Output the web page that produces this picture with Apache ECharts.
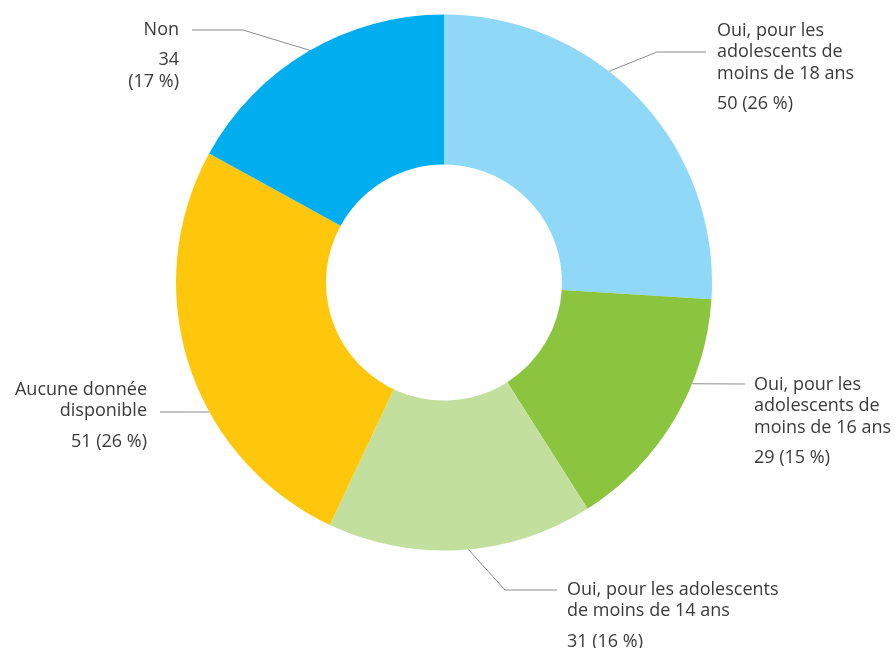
<!DOCTYPE html>
<html>
<head>
<meta charset="utf-8">
<script src="https://cdn.jsdelivr.net/npm/echarts@6/dist/echarts.min.js"></script>
<style>
html, body { margin: 0; background: #fff; }
#chart { width: 895px; height: 648px; }
</style>
</head>
<body>
<div id="chart"></div>
<script>
var names = [
    'Oui, pour les\nadolescents de\nmoins de 18 ans',
    'Oui, pour les\nadolescents de\nmoins de 16 ans',
    'Oui, pour les adolescents\nde moins de 14 ans',
    'Aucune donnée\ndisponible',
    'Non'
];
var counts = [50, 29, 31, 51, 34];
var percents = [26, 15, 16, 26, 17];
var colors = ['#8fd8f7', '#8bc540', '#c3df9d', '#fec70b', '#00aeef'];

// ring geometry (px)
var CX = 444, CY = 282.5, R0 = 118, R = 268;

// label placement: a = angle on the ring where the leader starts (deg, clockwise from top)
var labelPos = [
    {a: 38,    elbow: [657, 52], end: [706, 52],  x: 717, y: 20,  align: 'left'},
    {a: 112.2, elbow: null,      end: [745, 384], x: 754, y: 374, align: 'left'},
    {a: 174.8, elbow: [505, 590], end: [557, 590], x: 567, y: 579, align: 'left'},
    {a: 241.1, elbow: null,      end: [160, 412], x: 147, y: 379, align: 'right'},
    {a: 330,   elbow: [243, 30], end: [192, 30],  x: 179, y: 19,  align: 'right', wrap: true}
];

function ringPoint(a) {
    var rad = a * Math.PI / 180;
    return [CX + R * Math.sin(rad), CY - R * Math.cos(rad)];
}

var chart = echarts.init(document.getElementById('chart'));

// slice sizes follow the rounded shares shown in the labels
var seriesData = [];
for (var i = 0; i < names.length; i++) {
    seriesData.push({value: percents[i], name: names[i], itemStyle: {color: colors[i]}});
}

var txt = {fontFamily: 'Open Sans', fontSize: 18, lineHeight: 21.5, color: '#3a3a3a'};

var option = {
    animation: false,
    series: [{
        type: 'pie',
        center: [CX, CY],
        radius: [R0, R],
        startAngle: 90,
        clockwise: true,
        avoidLabelOverlap: false,
        data: seriesData,
        itemStyle: {borderWidth: 0},
        emphasis: {disabled: true},
        label: {
            show: true,
            position: 'outside',
            fontFamily: 'Open Sans',
            color: '#3a3a3a',
            formatter: function(p) {
                var i = p.dataIndex;
                var lines = names[i].split('\n').map(function(l) { return '{n|' + l + '}'; });
                var val = labelPos[i].wrap
                    ? '{v|' + counts[i] + '}\n{v|(' + percents[i] + ' %)}'
                    : '{v|' + counts[i] + ' (' + percents[i] + ' %)}';
                return lines.join('\n') + '\n{g| }\n' + val;
            },
            rich: {
                n: txt,
                v: txt,
                g: {fontSize: 4, lineHeight: 9}
            }
        },
        labelLine: {
            show: true,
            lineStyle: {color: '#8c8c8c', width: 1}
        },
        labelLayout: function(params) {
            var p = labelPos[params.dataIndex];
            var s = ringPoint(p.a);
            var mid = p.elbow || s;
            return {
                x: p.x,
                y: p.y,
                align: p.align,
                verticalAlign: 'top',
                labelLinePoints: [s, mid, p.end]
            };
        }
    }]
};

chart.setOption(option);
</script>
</body>
</html>
